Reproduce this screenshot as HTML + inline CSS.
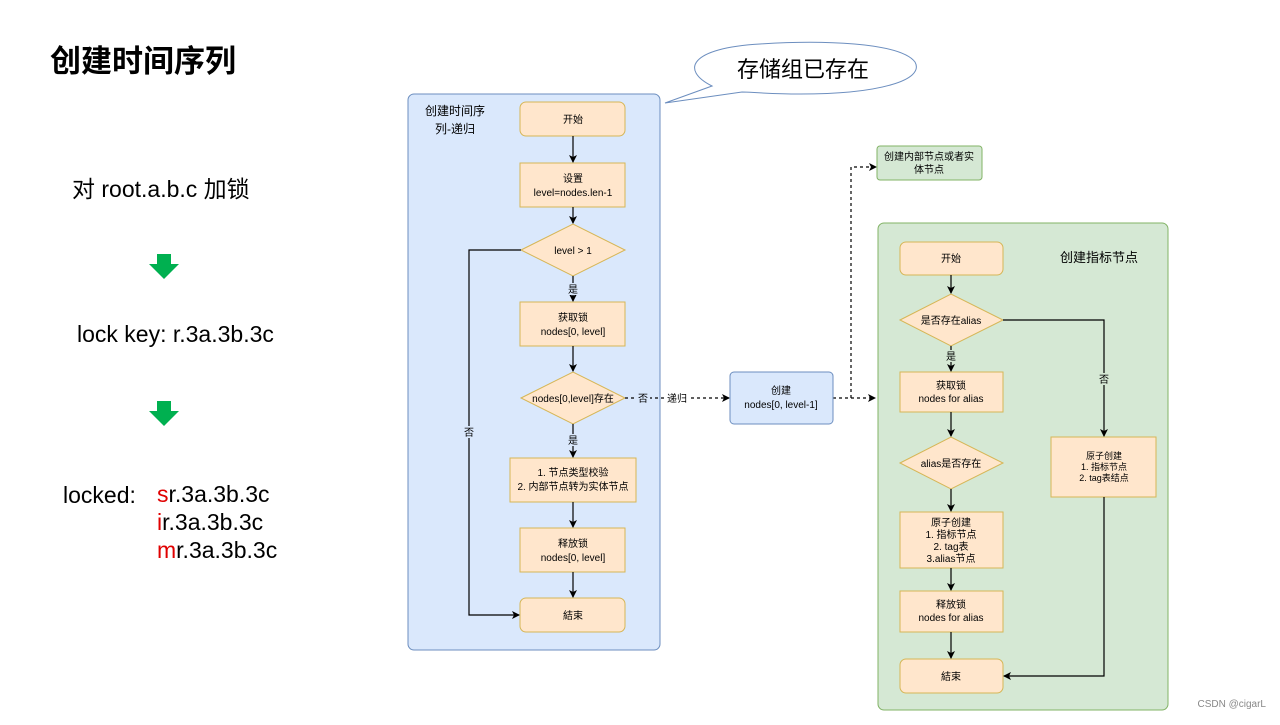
<!DOCTYPE html>
<html><head><meta charset="utf-8"><style>
body{margin:0;background:#fff;width:1280px;height:720px;overflow:hidden}
svg text{font-family:"Liberation Sans","Noto Sans CJK SC",sans-serif}
</style></head><body>
<svg width="1280" height="720" viewBox="0 0 1280 720" xmlns="http://www.w3.org/2000/svg">
<defs>
<marker id="a" markerWidth="8" markerHeight="8" refX="7" refY="4" orient="auto" markerUnits="userSpaceOnUse"><path d="M0,0 L8,4 L0,8 L2,4 Z" fill="#000"/></marker>
</defs>
<text x="50" y="72" font-size="31" font-weight="bold">创建时间序列</text>
<text x="72" y="197" font-size="23">对 root.a.b.c 加锁</text>
<path d="M157,254 h14 v10 h8 l-15,15 l-15,-15 h8 z" fill="#00b050"/>
<text x="77" y="342" font-size="23">lock key: r.3a.3b.3c</text>
<path d="M157,401 h14 v10 h8 l-15,15 l-15,-15 h8 z" fill="#00b050"/>
<text x="63" y="503" font-size="23">locked:</text>
<text x="157" y="502" font-size="23"><tspan fill="#e00000">s</tspan>r.3a.3b.3c</text>
<text x="157" y="530" font-size="23"><tspan fill="#e00000">i</tspan>r.3a.3b.3c</text>
<text x="157" y="558" font-size="23"><tspan fill="#e00000">m</tspan>r.3a.3b.3c</text>

<path d="M712,86 C680,70 690,48 760,44 C820,40 900,42 915,62 C925,80 880,94 800,94 C770,94 750,92 742,92 L665,103 Z" fill="#fff" stroke="#6c8ebf" stroke-width="1"/>
<text x="803" y="77" font-size="22" text-anchor="middle">存储组已存在</text>

<rect x="408" y="94" width="252" height="556" rx="6" fill="#dae8fc" stroke="#6c8ebf"/>
<text x="455" y="115" font-size="12" text-anchor="middle">创建时间序</text>
<text x="455" y="133" font-size="12" text-anchor="middle">列-递归</text>
<g stroke="#d6b656" fill="#ffe6cc">
<rect x="520" y="102" width="105" height="34" rx="6"/>
<rect x="520" y="163" width="105" height="44"/>
<path d="M521,250 L573,224 L625,250 L573,276 Z"/>
<rect x="520" y="302" width="105" height="44"/>
<path d="M521,398 L573,372 L625,398 L573,424 Z"/>
<rect x="510" y="458" width="126" height="44"/>
<rect x="520" y="528" width="105" height="44"/>
<rect x="520" y="598" width="105" height="34" rx="6"/>
</g>
<g stroke="#000" fill="none" stroke-width="1.2">
<path d="M573,136 V162" marker-end="url(#a)"/>
<path d="M573,207 V223" marker-end="url(#a)"/>
<path d="M573,276 V301" marker-end="url(#a)"/>
<path d="M573,346 V371" marker-end="url(#a)"/>
<path d="M573,424 V457" marker-end="url(#a)"/>
<path d="M573,502 V527" marker-end="url(#a)"/>
<path d="M573,572 V597" marker-end="url(#a)"/>
<path d="M521,250 H469 V615 H519" marker-end="url(#a)"/>
<path d="M625,398 H729" stroke-dasharray="3,3" marker-end="url(#a)"/>
<path d="M833,398 H875" stroke-dasharray="3,3" marker-end="url(#a)"/>
<path d="M851,398 V167 H876" stroke-dasharray="3,3" marker-end="url(#a)"/>
</g>
<g font-size="10" text-anchor="middle">
<text x="573" y="123">开始</text>
<text x="573" y="182">设置</text>
<text x="573" y="196">level=nodes.len-1</text>
<text x="573" y="254">level &gt; 1</text>
<rect x="566" y="283" width="14" height="12" fill="#dae8fc"/><text x="573" y="293">是</text>
<text x="573" y="321">获取锁</text>
<text x="573" y="335">nodes[0, level]</text>
<text x="573" y="402">nodes[0,level]存在</text>
<rect x="566" y="434" width="14" height="12" fill="#dae8fc"/><text x="573" y="444">是</text>
<text x="573" y="476">1. 节点类型校验</text>
<text x="573" y="490">2. 内部节点转为实体节点</text>
<text x="573" y="547">释放锁</text>
<text x="573" y="561">nodes[0, level]</text>
<text x="573" y="619">結束</text>
<rect x="462" y="426" width="14" height="12" fill="#dae8fc"/><text x="469" y="436">否</text>
<rect x="636" y="392" width="14" height="12" fill="#dae8fc"/><text x="643" y="402">否</text>
<rect x="666" y="392" width="24" height="12" fill="#fff"/><text x="677" y="402">递归</text>
</g>
<rect x="730" y="372" width="103" height="52" rx="4" fill="#dae8fc" stroke="#6c8ebf"/>
<text x="781" y="394" font-size="10" text-anchor="middle">创建</text>
<text x="781" y="408" font-size="10" text-anchor="middle">nodes[0, level-1]</text>

<rect x="877" y="146" width="105" height="34" rx="3" fill="#d5e8d4" stroke="#82b366"/>
<text x="929" y="160" font-size="10" text-anchor="middle">创建内部节点或者实</text>
<text x="929" y="173" font-size="10" text-anchor="middle">体节点</text>

<rect x="878" y="223" width="290" height="487" rx="6" fill="#d5e8d4" stroke="#82b366"/>
<text x="1099" y="262" font-size="13" text-anchor="middle">创建指标节点</text>
<g stroke="#d6b656" fill="#ffe6cc">
<rect x="900" y="242" width="103" height="33" rx="6"/>
<path d="M900,320 L951,294 L1003,320 L951,346 Z"/>
<rect x="900" y="372" width="103" height="40"/>
<path d="M900,463 L951,437 L1003,463 L951,489 Z"/>
<rect x="900" y="512" width="103" height="56"/>
<rect x="900" y="591" width="103" height="41"/>
<rect x="900" y="659" width="103" height="34" rx="6"/>
<rect x="1051" y="437" width="105" height="60"/>
</g>
<g stroke="#000" fill="none" stroke-width="1.2">
<path d="M951,275 V293" marker-end="url(#a)"/>
<path d="M951,346 V371" marker-end="url(#a)"/>
<path d="M951,412 V436" marker-end="url(#a)"/>
<path d="M951,489 V511" marker-end="url(#a)"/>
<path d="M951,568 V590" marker-end="url(#a)"/>
<path d="M951,632 V658" marker-end="url(#a)"/>
<path d="M1003,320 H1104 V436" marker-end="url(#a)"/>
<path d="M1104,497 V676 H1004" marker-end="url(#a)"/>
</g>
<g font-size="10" text-anchor="middle">
<text x="951" y="262">开始</text>
<text x="951" y="324">是否存在alias</text>
<rect x="944" y="350" width="14" height="12" fill="#d5e8d4"/><text x="951" y="360">是</text>
<text x="951" y="389">获取锁</text>
<text x="951" y="402">nodes for alias</text>
<text x="951" y="467">alias是否存在</text>
<text x="951" y="526">原子创建</text>
<text x="951" y="538">1. 指标节点</text>
<text x="951" y="550">2. tag表</text>
<text x="951" y="562">3.alias节点</text>
<text x="951" y="608">释放锁</text>
<text x="951" y="621">nodes for alias</text>
<text x="951" y="680">結束</text>
<rect x="1097" y="373" width="14" height="12" fill="#d5e8d4"/><text x="1104" y="383">否</text>
<text x="1104" y="459" font-size="9">原子创建</text>
<text x="1104" y="470" font-size="9">1. 指标节点</text>
<text x="1104" y="481" font-size="9">2. tag表结点</text>
</g>
<text x="1266" y="707" font-size="10" fill="#888" text-anchor="end">CSDN @cigarL</text>
</svg>
</body></html>
